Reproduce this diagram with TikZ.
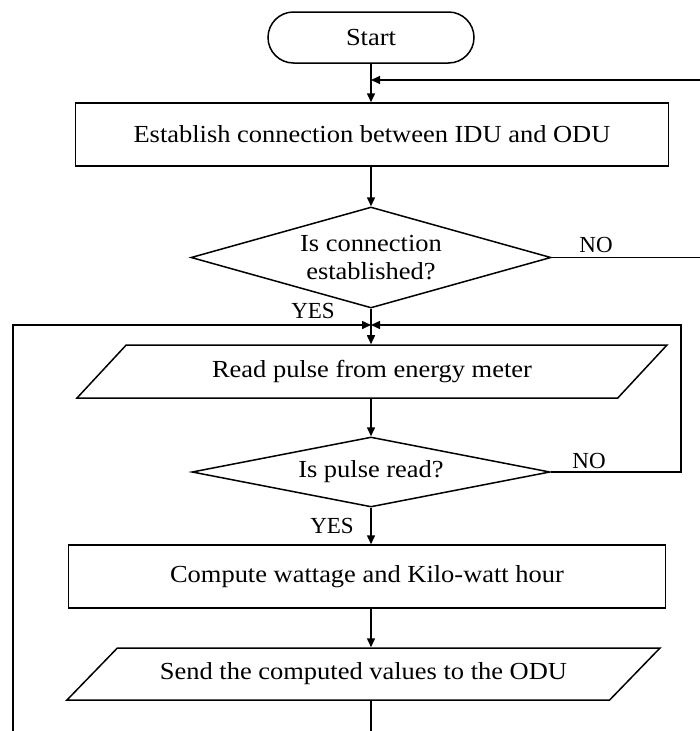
\documentclass[tikz,border=0pt]{standalone}
\usepackage{fontspec}
\setmainfont{Liberation Serif}[FakeStretch=1.08]
\newfontfamily\tagfont{Liberation Serif}
\usetikzlibrary{arrows.meta,positioning,shapes.geometric}

\begin{document}
\begin{tikzpicture}[x=1pt,y=-1pt,line width=1.5pt,
  every node/.style={font=\fontsize{24.5}{28}\selectfont,inner sep=0pt,align=center},
  flow/.style={-{Triangle[length=9pt,width=8pt]}},
  term/.style={draw,rounded corners=25.5pt,minimum width=206pt,minimum height=51pt},
  box/.style={draw,minimum height=63pt},
  test/.style={draw,diamond},
  io/.style={draw,trapezium,trapezium stretches body},
  tag/.style={font=\tagfont\fontsize{23}{27}\selectfont}]
\useasboundingbox (0,0) rectangle (700,731);
\node[term] (start) at (371,37.5) {Start};
\node[box,minimum width=593pt] (establish) at (372,134.5) {Establish connection between IDU and ODU};
\node[test,aspect=3.56,minimum width=360pt,minimum height=101pt] (conn) at (371,257.5) {Is connection\\established?};
\node[io,trapezium left angle=24.6,trapezium right angle=155.4,minimum width=590pt,minimum height=53pt] (readpulse) at (372,371.5) {Read pulse from energy meter};
\node[test,aspect=5.1,minimum width=358pt,minimum height=70pt] (pulseread) at (371,472) {Is pulse read?};
\node[box,minimum width=597pt] (compute) at (367,576.5) {Compute wattage and Kilo-watt hour};
\node[io,trapezium left angle=23.8,trapezium right angle=156.2,minimum width=593pt,minimum height=52pt] (send) at (363.5,674) {Send the computed values to the ODU};
\coordinate (join) at (371,325);
\coordinate (retry) at (700,80);
\coordinate (noconn) at (700,257.5);
\coordinate (loopright) at (681,325);
\coordinate (loopin) at (13,731);
\coordinate (next) at (371,731);
\draw[flow] (start.south -| join) -- (establish.north -| join);
\draw[flow] (retry) -- (retry -| join);
\draw[flow] (establish.south -| join) -- (conn.north);
\draw (conn.east) -- (noconn);
\draw (conn.south) -- (join);
\draw[flow] (loopin) |- (join);
\draw[flow] (pulseread.east) -| (loopright) -- (join);
\draw[flow] (join) -- (readpulse.north -| join);
\draw[flow] (readpulse.south -| join) -- (pulseread.north);
\draw[flow] (pulseread.south) -- (compute.north -| join);
\draw[flow] (compute.south -| join) -- (send.north -| join);
\draw (send.south -| join) -- (next);
\node[tag] (noa) at (596,245) {NO};
\node[tag] (yesa) at (313,311) {YES};
\node[tag] (nob) at (589,461) {NO};
\node[tag] (yesb) at (332,526) {YES};
\end{tikzpicture}
\end{document}
